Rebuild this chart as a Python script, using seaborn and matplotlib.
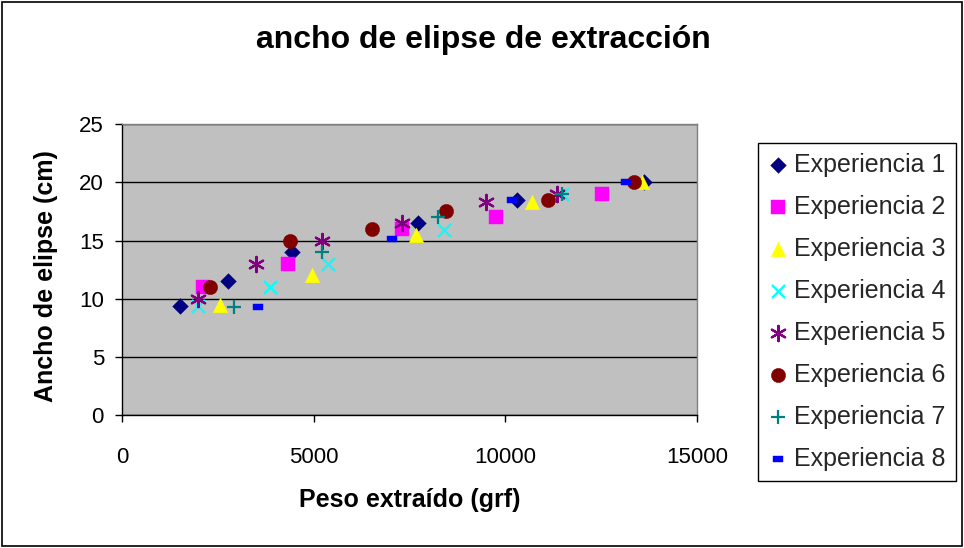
import matplotlib
matplotlib.use("Agg")
import matplotlib.pyplot as plt
from matplotlib.patches import Rectangle
import seaborn as sns
import pandas as pd

# Peso extraído (grf) / ancho de elipse (cm) for each run
exp1_x = [1500, 2765, 4434, 7720, 10295, 13624]
exp1_y = [9.4, 11.5, 14.0, 16.5, 18.5, 20.0]
exp2_x = [2120, 4330, 7303, 9755, 12520]
exp2_y = [11.0, 13.0, 16.0, 17.0, 19.0]
exp3_x = [2556, 4956, 7668, 10694, 13555]
exp3_y = [9.5, 12.0, 15.5, 18.3, 20.0]
exp4_x = [1975, 3860, 5373, 8398, 11466]
exp4_y = [9.4, 11.0, 13.0, 15.9, 19.0]
exp5_x = [1975, 3495, 5216, 7303, 9494, 11353]
exp5_y = [10.0, 13.0, 15.0, 16.5, 18.3, 19.0]
exp6_x = [2295, 4382, 6520, 8451, 11111, 13354]
exp6_y = [11.0, 15.0, 16.0, 17.5, 18.5, 20.0]
exp7_x = [2921, 5216, 8234, 11466]
exp7_y = [9.3, 14.0, 17.0, 19.0]
exp8_x = [3539, 7042, 10172, 13137]
exp8_y = [9.3, 15.1, 18.5, 20.0]

series_names = ["Experiencia 1", "Experiencia 2", "Experiencia 3", "Experiencia 4",
                "Experiencia 5", "Experiencia 6", "Experiencia 7", "Experiencia 8"]
series_x = [exp1_x, exp2_x, exp3_x, exp4_x, exp5_x, exp6_x, exp7_x, exp8_x]
series_y = [exp1_y, exp2_y, exp3_y, exp4_y, exp5_y, exp6_y, exp7_y, exp8_y]

x_ticks = [0, 5000, 10000, 15000]
y_ticks = [0, 5, 10, 15, 20, 25]

sns.set_theme(style="white")
plt.rcParams["font.family"] = ["Liberation Sans", "DejaVu Sans"]

dash = [(-1, -0.5), (1, -0.5), (1, 0.5), (-1, 0.5), (-1, -0.5)]
styles = [
    dict(marker="D", color="#000080", s=8.0**2, filled=True),
    dict(marker="s", color="#FF00FF", s=9.4**2, filled=True),
    dict(marker="^", color="#FFFF00", s=10.5**2, filled=True),
    dict(marker="x", color="#00FFFF", s=9.4**2, filled=False),
    dict(marker=(6, 2, 0), color="#800080", s=11.0**2, filled=False),
    dict(marker="o", color="#800000", s=10.3**2, filled=True),
    dict(marker="+", color="#008080", s=10**2, filled=False),
    dict(marker=dash, color="#0000FF", s=7.4**2, filled=True),
]

W, H = 964, 548
fig = plt.figure(figsize=(W / 100, H / 100), dpi=100)
fig.patch.set_facecolor("white")
ax = fig.add_axes([122 / W, 1 - 415.3 / H, (697 - 122) / W, (415.3 - 124) / H])
ax.set_facecolor("#C0C0C0")

for name, xs, ys, st in zip(series_names, series_x, series_y, styles):
    df = pd.DataFrame({"x": xs, "y": ys})
    if st["filled"]:
        sns.scatterplot(data=df, x="x", y="y", ax=ax, marker=st["marker"], s=st["s"],
                        color=st["color"], edgecolor=st["color"], linewidth=0.3,
                        label=name, zorder=3)
    else:
        sns.scatterplot(data=df, x="x", y="y", ax=ax, marker=st["marker"], s=st["s"],
                        color=st["color"], linewidth=1.6, label=name, zorder=3)

ax.set_xlim(0, 15000)
ax.set_ylim(0, 25)
ax.set_xticks(x_ticks)
ax.set_yticks(y_ticks)
ax.set_xticklabels([str(v) for v in x_ticks])
ax.set_yticklabels([str(v) for v in y_ticks])
ax.yaxis.grid(True, color="black", linewidth=1.0)
ax.xaxis.grid(False)
ax.set_axisbelow(True)
for side in ["left", "bottom"]:
    ax.spines[side].set_color("black")
    ax.spines[side].set_linewidth(1.0)
for side in ["top", "right"]:
    ax.spines[side].set_color("#808080")
    ax.spines[side].set_linewidth(1.0)
ax.tick_params(axis="both", which="both", direction="out", length=5, width=1,
               color="black", labelsize=16, labelcolor="black")
ax.tick_params(axis="x", pad=18, bottom=True)
ax.tick_params(axis="y", pad=8, left=True)
ax.set_xlabel("")
ax.set_ylabel("")

fig.text(483 / W, 1 - 40 / H, "ancho de elipse de extracción", ha="center", va="center",
         fontsize=23, fontweight="bold", color="black")
fig.text(410 / W, 1 - 500 / H, "Peso extraído (grf)", ha="center", va="center",
         fontsize=18, fontweight="bold", color="black")
fig.text(46 / W, 1 - 276 / H, "Ancho de elipse (cm)", ha="center", va="center",
         rotation=90, fontsize=18, fontweight="bold", color="black")

handles, labels = ax.get_legend_handles_labels()
ax.legend_.remove()
leg = fig.legend(handles, labels, loc="upper left",
                 bbox_to_anchor=(758 / W, 1 - 143 / H), bbox_transform=fig.transFigure,
                 borderaxespad=0, frameon=True, fancybox=False, fontsize=18,
                 handlelength=0.8, handletextpad=0.25, borderpad=0.4,
                 labelspacing=0.72, framealpha=1)
leg.get_frame().set_edgecolor("black")
leg.get_frame().set_linewidth(1.0)
leg.get_frame().set_facecolor("white")

fig.patches.append(Rectangle((2 / W, 2 / H), (W - 4) / W, (H - 4) / H,
                             transform=fig.transFigure, fill=False,
                             edgecolor="black", linewidth=1.2))

fig.savefig("out.png", dpi=100)
